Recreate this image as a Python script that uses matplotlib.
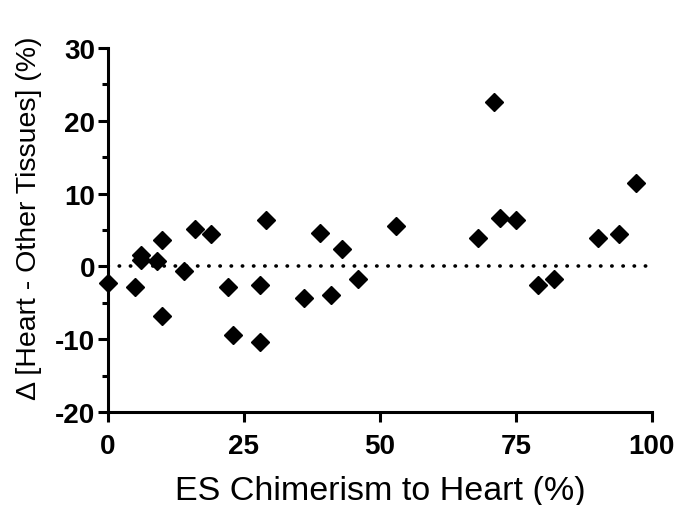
import matplotlib
matplotlib.use("Agg")
import matplotlib.pyplot as plt
from matplotlib.ticker import MultipleLocator

plt.rcParams['font.family'] = ['Liberation Sans', 'DejaVu Sans']
plt.rcParams['axes.unicode_minus'] = False

chimerism = [0, 5, 6, 6, 9, 10, 10, 14, 16, 19, 22, 23, 28, 28, 29,
             36, 39, 41, 43, 46, 53, 68, 71, 72, 75, 79, 82, 90, 94, 97]
delta = [-2.3, -2.8, 1.5, 0.9, 0.7, 3.6, -6.8, -0.6, 5.2, 4.5, -2.8, -9.4, -2.6, -10.4, 6.4,
         -4.3, 4.6, -4.0, 2.4, -1.8, 5.6, 3.9, 22.6, 6.7, 6.4, -2.6, -1.8, 3.9, 4.4, 11.4]

x_ticks = [0, 25, 50, 75, 100]
y_ticks = [-20, -10, 0, 10, 20, 30]

fig = plt.figure(figsize=(6.83, 5.06), dpi=100)
ax = fig.add_axes([0.158, 0.184, 0.7965, 0.719])

ax.plot([0, 100], [0, 0], color='black', linewidth=2.6,
        dashes=(0.1, 3.0), dash_capstyle='round', zorder=1)
ax.plot(chimerism, delta, linestyle='none', marker='D', markersize=9,
        color='black', clip_on=False, zorder=3)

ax.set_xlim(0, 100)
ax.set_ylim(-20, 30)
ax.set_xticks(x_ticks)
ax.set_yticks(y_ticks)
ax.yaxis.set_minor_locator(MultipleLocator(5))

for s in ['top', 'right']:
    ax.spines[s].set_visible(False)
for s in ['left', 'bottom']:
    ax.spines[s].set_linewidth(2.2)
    ax.spines[s].set_capstyle('projecting')

ax.tick_params(axis='both', which='major', direction='out', width=2.2,
               length=7, labelsize=20)
ax.tick_params(axis='x', which='major', pad=8)
ax.tick_params(axis='y', which='major', pad=2)
ax.tick_params(axis='y', which='minor', direction='out', width=2.2, length=4)
for lab in ax.get_xticklabels() + ax.get_yticklabels():
    lab.set_fontweight('bold')

ax.set_xlabel('ES Chimerism to Heart (%)', fontsize=24.5, labelpad=12)
ax.set_ylabel('Δ [Heart - Other Tissues] (%)', fontsize=20.5)
ax.yaxis.set_label_coords(-0.122, 0.535)

fig.savefig('out.png', dpi=100)
